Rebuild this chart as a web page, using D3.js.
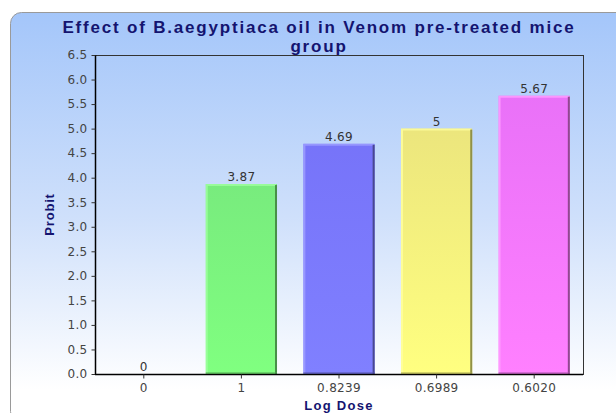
<!DOCTYPE html>
<html>
<head>
<meta charset="utf-8">
<script src="https://cdn.jsdelivr.net/npm/d3@7"></script>
<style>
  html, body { margin: 0; padding: 0; background: #ffffff; }
  svg { display: block; }
</style>
</head>
<body>
<svg id="chart" width="616" height="413"></svg>
<script>
// Chart data
const categories = ["0", "1", "0.8239", "0.6989", "0.6020"];
const probit = [0, 3.87, 4.69, 5, 5.67];
const valueLabels = ["0", "3.87", "4.69", "5", "5.67"];
const barColors = ["#ff8080", "#80ff80", "#8080ff", "#ffff80", "#ff80ff"];
const yTicks = [0, 0.5, 1, 1.5, 2, 2.5, 3, 3.5, 4, 4.5, 5, 5.5, 6, 6.5];

const svg = d3.select("#chart");
const W = 616, H = 413;
const plot = { left: 95, right: 583, top: 55, bottom: 374 };

const defs = svg.append("defs");

// Panel background gradient
const bg = defs.append("linearGradient")
  .attr("id", "panelGrad").attr("x1", 0).attr("y1", 0).attr("x2", 0).attr("y2", 1);
bg.append("stop").attr("offset", "0%").attr("stop-color", "#a4c6fa");
bg.append("stop").attr("offset", "50%").attr("stop-color", "#cfe0fb");
bg.append("stop").attr("offset", "92%").attr("stop-color", "#ffffff");
bg.append("stop").attr("offset", "100%").attr("stop-color", "#ffffff");

svg.append("rect")
  .attr("x", 10.5).attr("y", 12.5)
  .attr("width", W + 20).attr("height", H - 13 + 10)
  .attr("rx", 11).attr("ry", 11)
  .attr("fill", "url(#panelGrad)")
  .attr("stroke", "#9a9a9a").attr("stroke-width", 1);

// Scales
const x = d3.scaleBand()
  .domain(categories)
  .range([plot.left, plot.right])
  .paddingInner(0.27)
  .paddingOuter(0.135);

const y = d3.scaleLinear()
  .domain([0, 6.5])
  .range([plot.bottom, plot.top]);

// Bar gradients, shaded darker toward the top of the plot
barColors.forEach((c, i) => {
  const base = d3.rgb(c);
  const dark = d3.rgb(base.r * 0.9, base.g * 0.87, base.b * 0.97);
  const g = defs.append("linearGradient")
    .attr("id", "barGrad" + i)
    .attr("gradientUnits", "userSpaceOnUse")
    .attr("x1", 0).attr("y1", plot.top).attr("x2", 0).attr("y2", plot.bottom);
  g.append("stop").attr("offset", "0%").attr("stop-color", dark.formatHex());
  g.append("stop").attr("offset", "100%").attr("stop-color", base.formatHex());
});

// Plot outline
svg.append("rect")
  .attr("x", plot.left + 0.5).attr("y", plot.top + 0.5)
  .attr("width", plot.right - plot.left).attr("height", plot.bottom - plot.top)
  .attr("fill", "none")
  .attr("stroke", "#333333").attr("stroke-width", 1);

// Bars
const bars = svg.append("g");
probit.forEach((v, i) => {
  if (v <= 0) return;
  const bx = x(categories[i]);
  const bw = x.bandwidth();
  const by = y(v);
  const bh = y(0) - by;
  const base = d3.rgb(barColors[i]);
  bars.append("rect")
    .attr("x", bx).attr("y", by).attr("width", bw).attr("height", bh)
    .attr("fill", `url(#barGrad${i})`);
  // light edge on the left and top
  bars.append("path")
    .attr("d", `M${bx + 1},${plot.bottom} V${by + 1} H${bx + bw - 1}`)
    .attr("fill", "none")
    .attr("stroke", base.brighter(0.6).formatHex())
    .attr("stroke-width", 2).attr("opacity", 0.8);
  // dark edge on the right
  bars.append("line")
    .attr("x1", bx + bw - 1).attr("x2", bx + bw - 1)
    .attr("y1", by + 1).attr("y2", plot.bottom)
    .attr("stroke", base.darker(1.6).formatHex())
    .attr("stroke-width", 2);
  // bottom edge
  bars.append("line")
    .attr("x1", bx).attr("x2", bx + bw)
    .attr("y1", plot.bottom - 1).attr("y2", plot.bottom - 1)
    .attr("stroke", base.darker(1.2).formatHex())
    .attr("stroke-width", 1);
});

// Value labels
svg.append("g").selectAll("text")
  .data(probit)
  .join("text")
  .attr("x", (d, i) => x(categories[i]) + x.bandwidth() / 2)
  .attr("y", d => y(d) - 3)
  .attr("text-anchor", "middle")
  .attr("font-family", "DejaVu Sans, sans-serif")
  .attr("font-size", 12)
  .attr("letter-spacing", 0.3)
  .attr("fill", "#333333")
  .text((d, i) => valueLabels[i]);

// Axes
const yAxis = d3.axisLeft(y).tickValues(yTicks).tickFormat(d3.format(".1f")).tickSize(4).tickPadding(4);
const yG = svg.append("g").attr("transform", `translate(${plot.left + 0.5},0)`).call(yAxis);
const xAxis = d3.axisBottom(x).tickSize(4).tickPadding(5);
const xG = svg.append("g").attr("transform", `translate(0,${plot.bottom + 0.5})`).call(xAxis);

[yG, xG].forEach(g => {
  g.select(".domain").attr("stroke", "#000000").attr("stroke-width", 1.5);
  g.selectAll(".tick line").attr("stroke", "#333333");
  g.selectAll(".tick text")
    .attr("font-family", "DejaVu Sans, sans-serif")
    .attr("font-size", 12)
    .attr("letter-spacing", 0.3)
    .attr("fill", "#444444");
});
yG.select(".domain").attr("d", `M0,${plot.top}V${plot.bottom}`);
xG.select(".domain").attr("d", `M${plot.left},0H${plot.right}`);

// Axis titles
svg.append("text")
  .attr("transform", `translate(54,${(plot.top + plot.bottom) / 2}) rotate(-90)`)
  .attr("text-anchor", "middle")
  .attr("font-family", "Liberation Sans, Arial, sans-serif")
  .attr("font-weight", "bold")
  .attr("font-size", 13)
  .attr("letter-spacing", 0.8)
  .attr("fill", "#141470")
  .text("Probit");

svg.append("text")
  .attr("x", (plot.left + plot.right) / 2)
  .attr("y", 410)
  .attr("text-anchor", "middle")
  .attr("font-family", "Liberation Sans, Arial, sans-serif")
  .attr("font-weight", "bold")
  .attr("font-size", 13)
  .attr("letter-spacing", 1.3)
  .attr("fill", "#141470")
  .text("Log Dose");

// Chart title
const title = svg.append("text")
  .attr("text-anchor", "middle")
  .attr("font-family", "Liberation Sans, Arial, sans-serif")
  .attr("font-weight", "bold")
  .attr("font-size", 17)
  .attr("letter-spacing", 1.8)
  .attr("fill", "#141470");
title.append("tspan").attr("x", 319).attr("y", 33)
  .text("Effect of B.aegyptiaca oil in Venom pre-treated mice");
title.append("tspan").attr("x", 319).attr("y", 52).text("group");
</script>
</body>
</html>
